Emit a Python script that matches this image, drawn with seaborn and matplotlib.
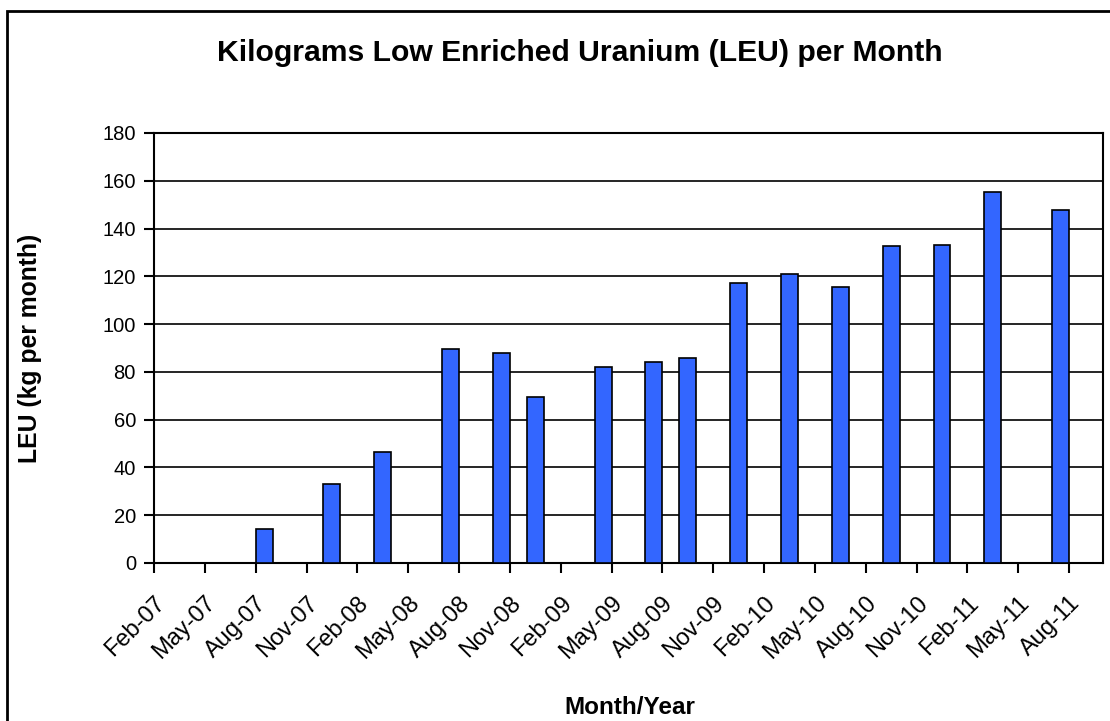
import numpy as np
import pandas as pd
import matplotlib
matplotlib.use("Agg")
import matplotlib.pyplot as plt
from matplotlib.patches import Rectangle
import seaborn as sns

# Data: month of each report and kg LEU per month
months = ['Aug-07', 'Dec-07', 'Mar-08', 'Jul-08', 'Oct-08', 'Dec-08', 'Apr-09', 'Jul-09',
          'Sep-09', 'Dec-09', 'Mar-10', 'Jun-10', 'Sep-10', 'Dec-10', 'Mar-11', 'Jul-11']
leu_kg = [14.4, 32.9, 46.5, 89.6, 88.0, 69.6, 81.9, 84.1,
          85.8, 117.2, 121.0, 115.7, 132.5, 133.3, 155.5, 147.9]

# Axis ticks every 3 months
tick_labels = ['Feb-07', 'May-07', 'Aug-07', 'Nov-07', 'Feb-08', 'May-08', 'Aug-08', 'Nov-08',
               'Feb-09', 'May-09', 'Aug-09', 'Nov-09', 'Feb-10', 'May-10', 'Aug-10', 'Nov-10',
               'Feb-11', 'May-11', 'Aug-11']
y_ticks = [0, 20, 40, 60, 80, 100, 120, 140, 160, 180]

start = pd.Timestamp('2007-02-01')

def month_index(label):
    d = pd.to_datetime(label, format='%b-%y')
    return (d.year - start.year) * 12 + d.month - start.month

df = pd.DataFrame({'month': months, 'leu': leu_kg})
df['pos'] = [month_index(m) + 0.5 for m in df['month']]
tick_pos = [month_index(t) for t in tick_labels]

sns.set_style('white')
plt.rcParams['font.family'] = ['Liberation Sans', 'DejaVu Sans']
plt.rcParams['text.color'] = 'black'

fig = plt.figure(figsize=(11.1, 7.21), dpi=100)
ax = fig.add_axes([154 / 1110, 1 - 563 / 721, (1103 - 154) / 1110, (563 - 133) / 721])

sns.barplot(data=df, x='pos', y='leu', native_scale=True, width=0.5,
            color='#3366FF', saturation=1, edgecolor='black', linewidth=1.2, ax=ax, zorder=3)

ax.set_xlim(0, 56)
ax.set_ylim(0, 180)
ax.set_yticks(y_ticks)
ax.set_xticks(tick_pos)
ax.set_xticklabels(tick_labels, rotation=45, ha='right', va='top', rotation_mode='anchor')
ax.tick_params(axis='both', colors='black', direction='out', length=7, width=1.5,
               left=True, bottom=True)
ax.tick_params(axis='y', labelsize=14.5, pad=6)
ax.tick_params(axis='x', labelsize=17, pad=14)
ax.yaxis.grid(True, color='black', linewidth=1.2)
ax.set_axisbelow(True)
for s in ax.spines.values():
    s.set_color('black')
    s.set_linewidth(1.5)
ax.set_xlabel('')
ax.set_ylabel('')

fig.text(580 / 1110, 1 - 53 / 721, 'Kilograms Low Enriched Uranium (LEU) per Month',
         ha='center', va='center', fontsize=21.7, fontweight='bold', color='black')
fig.text(30 / 1110, 1 - 348 / 721, 'LEU (kg per month)', rotation=90,
         ha='center', va='center', fontsize=17.8, fontweight='bold', color='black')
fig.text(630 / 1110, 1 - 707 / 721, 'Month/Year', ha='center', va='center',
         fontsize=17.5, fontweight='bold', color='black')

# outer chart frame (right and bottom edges fall outside the image)
fig.add_artist(Rectangle((7 / 1110, -0.1), 1.2, 1 - 11 / 721 + 0.1, transform=fig.transFigure,
                         fill=False, edgecolor='black', linewidth=2))

fig.savefig('out.png', dpi=100)
